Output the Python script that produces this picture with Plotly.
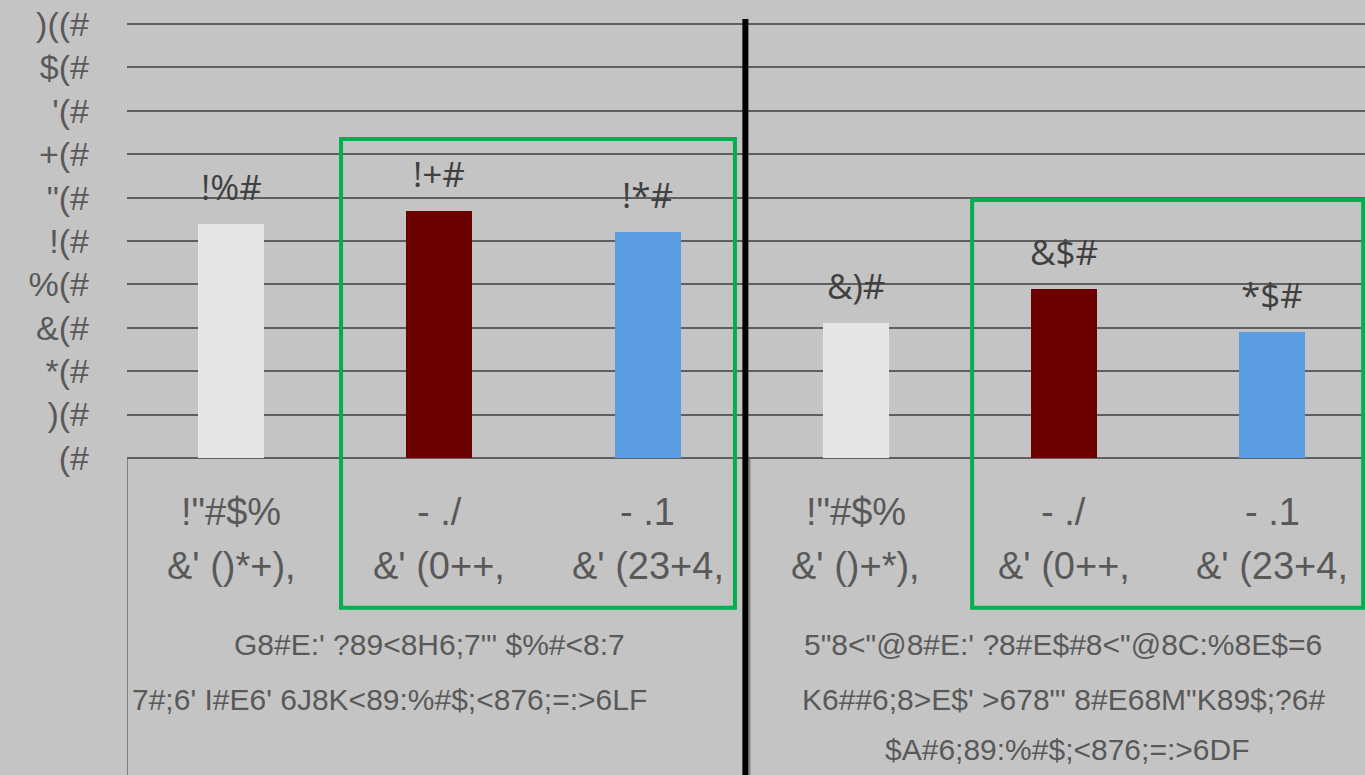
import plotly.graph_objects as go

# ---- data ----
cat_line1 = ["!\"#$%", "- ./", "- .1", "!\"#$%", "- ./", "- .1"]
cat_line2 = ["&' ()*+),", "&' (0++,", "&' (23+4,", "&' ()+*),", "&' (0++,", "&' (23+4,"]
values = [54, 57, 52, 31, 39, 29]
value_labels = ["!%#", "!+#", "!*#", "&)#", "&$#", "*$#"]
bar_colors = ["#e6e6e6", "#6b0000", "#5b9be0", "#e6e6e6", "#6b0000", "#5b9be0"]
group1_lines = ["G8#E:' ?89<8H6;7\"' $%#<8:7", "7#;6' I#E6' 6J8K<89:%#$;<876;=:>6LF"]
group2_lines = ["5\"8<\"@8#E:' ?8#E$#8<\"@8C:%8E$=6",
                "K6##6;8>E$' >678\"' 8#E68M\"K89$;?6#",
                "$A#6;89:%#$;<876;=:>6DF"]
tick_vals = [0, 10, 20, 30, 40, 50, 60, 70, 80, 90, 100]
tick_text = ["(#", ")(#", "*(#", "&(#", "%(#", "!(#", "\"(#", "+(#", "'(#", "$(#", ")((#"]

x = list(range(len(values)))
TXT = "#595959"
FONT_AX = "Liberation Sans, Arial, sans-serif"
FONT_LBL = "Open Sans, sans-serif"

PH = 436.2  # plot height in px
def py(pixel_y):
    return (459.1 - pixel_y) / PH

fig = go.Figure()
fig.add_trace(go.Bar(x=x, y=values, width=0.317, marker=dict(color=bar_colors, line=dict(width=0)),
                     showlegend=False, hoverinfo="skip"))

ann = []
for xi, v, t in zip(x, values, value_labels):
    ann.append(dict(x=xi, y=v, xref="x", yref="y", text=t, showarrow=False, yanchor="bottom",
                    yshift=12, font=dict(family=FONT_LBL, size=35, color="#404040")))
for xi, l1, l2 in zip(x, cat_line1, cat_line2):
    ann.append(dict(x=xi, y=py(512), xref="x", yref="paper", text=l1, showarrow=False, yanchor="middle",
                    font=dict(family=FONT_AX, size=38, color=TXT)))
    ann.append(dict(x=xi, y=py(566), xref="x", yref="paper", text=l2, showarrow=False, yanchor="middle",
                    font=dict(family=FONT_AX, size=38, color=TXT)))
g1_x = [0.955, 0.763]
g_y = [py(645), py(700), py(750)]
for i, t in enumerate(group1_lines):
    ann.append(dict(x=g1_x[i], y=g_y[i], xref="x", yref="paper", text=t, showarrow=False, yanchor="middle",
                    font=dict(family=FONT_AX, size=30, color=TXT)))
g2_x = [3.996, 3.996, 4.015]
for i, t in enumerate(group2_lines):
    ann.append(dict(x=g2_x[i], y=g_y[i], xref="x", yref="paper", text=t, showarrow=False, yanchor="middle",
                    font=dict(family=FONT_AX, size=30, color=TXT)))

bottom = py(776)
shapes = [
    dict(type="line", xref="x", yref="paper", x0=-0.5, x1=-0.5, y0=py(459), y1=bottom, line=dict(color="#7f7f7f", width=2)),
    dict(type="line", xref="x", yref="paper", x0=2.49, x1=2.49, y0=py(459), y1=bottom, line=dict(color="#7f7f7f", width=2)),
    dict(type="line", xref="x", yref="paper", x0=2.47, x1=2.47, y0=py(19), y1=bottom, line=dict(color="#000000", width=6)),
    dict(type="rect", xref="x", yref="paper", x0=0.528, x1=2.42, y0=py(139), y1=py(608),
         line=dict(color="#00b050", width=4), fillcolor="rgba(0,0,0,0)"),
    dict(type="rect", xref="x", yref="paper", x0=3.559, x1=5.437, y0=py(200), y1=py(608),
         line=dict(color="#00b050", width=4), fillcolor="rgba(0,0,0,0)"),
]

fig.update_layout(
    width=1365, height=775,
    margin=dict(l=127, r=0, t=23, b=316, pad=0),
    paper_bgcolor="#c4c4c4", plot_bgcolor="#c4c4c4",
    annotations=ann, shapes=shapes,
    xaxis=dict(range=[-0.5, 5.446], showticklabels=False, showgrid=False, zeroline=False, showline=False),
    yaxis=dict(range=[-0.25, 100.25], tickvals=tick_vals, ticktext=tick_text, showgrid=True, gridcolor="#5f5f5f",
               gridwidth=2, zeroline=False, showline=False, ticklabelstandoff=37,
               tickfont=dict(family=FONT_AX, size=34, color=TXT)),
    bargap=0,
)
fig.write_html("out.html", config={"displayModeBar": False},
               post_script="document.body.style.margin='0';document.body.style.overflow='hidden';")
